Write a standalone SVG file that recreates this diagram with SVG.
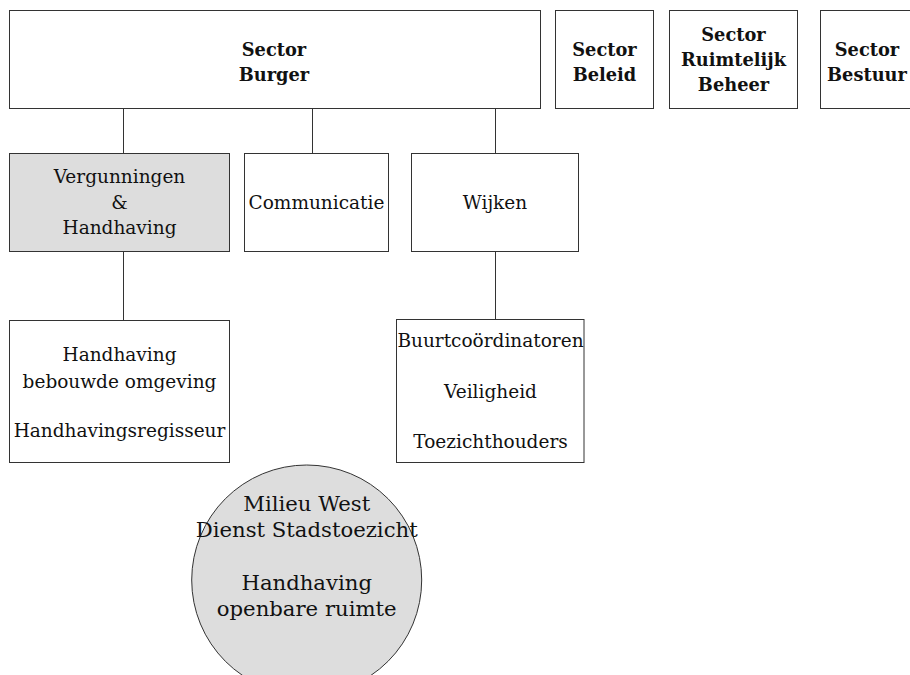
<svg xmlns="http://www.w3.org/2000/svg" width="910" height="675" viewBox="0 0 910 675">
  <style>
    .box { fill: #ffffff; stroke: #333333; stroke-width: 1; }
    .shaded { fill: #dddddd; }
    .link { stroke: #333333; stroke-width: 1; fill: none; }
    text { font-family: "DejaVu Serif", "Liberation Serif", serif; text-anchor: middle; fill: #111111; }
    .head { font-size: 17.8px; font-weight: bold; }
    .unit { font-size: 18.5px; }
    .ext { font-size: 21.2px; }
  </style>
  <rect width="910" height="675" fill="#ffffff"/>

  <!-- connectors -->
  <g id="connectors">
    <line class="link" x1="123.5" y1="108.5" x2="123.5" y2="153.5"/>
    <line class="link" x1="312.5" y1="108.5" x2="312.5" y2="153.5"/>
    <line class="link" x1="495.5" y1="108.5" x2="495.5" y2="153.5"/>
    <line class="link" x1="123.5" y1="251.5" x2="123.5" y2="320.5"/>
    <line class="link" x1="495.5" y1="251.5" x2="495.5" y2="319.5"/>
  </g>

  <!-- top row: sectors -->
  <g id="sector-burger">
    <rect class="box" x="9.5" y="10.5" width="531" height="98"/>
    <text class="head" x="274" y="56">Sector</text>
    <text class="head" x="274" y="81">Burger</text>
  </g>
  <g id="sector-beleid">
    <rect class="box" x="555.5" y="10.5" width="98" height="98"/>
    <text class="head" x="604.5" y="56">Sector</text>
    <text class="head" x="604.5" y="81">Beleid</text>
  </g>
  <g id="sector-ruimtelijk-beheer">
    <rect class="box" x="669.5" y="10.5" width="128" height="98"/>
    <text class="head" x="733.5" y="40.5">Sector</text>
    <text class="head" x="733.5" y="65.5">Ruimtelijk</text>
    <text class="head" x="733.5" y="90.5">Beheer</text>
  </g>
  <g id="sector-bestuur">
    <rect class="box" x="820.5" y="10.5" width="100" height="98"/>
    <text class="head" x="867" y="56">Sector</text>
    <text class="head" x="867" y="81">Bestuur</text>
  </g>

  <!-- second row: departments -->
  <g id="vergunningen-handhaving">
    <rect class="box shaded" x="9.5" y="153.5" width="220" height="98"/>
    <text class="unit" x="119.5" y="182.5">Vergunningen</text>
    <text class="unit" x="119.5" y="208.5">&amp;</text>
    <text class="unit" x="119.5" y="234">Handhaving</text>
  </g>
  <g id="communicatie">
    <rect class="box" x="244.5" y="153.5" width="144" height="98"/>
    <text class="unit" x="316.5" y="208.5">Communicatie</text>
  </g>
  <g id="wijken">
    <rect class="box" x="411.5" y="153.5" width="167" height="98"/>
    <text class="unit" x="495" y="208.5">Wijken</text>
  </g>

  <!-- third row: teams -->
  <g id="handhaving-bebouwde-omgeving">
    <rect class="box" x="9.5" y="320.5" width="220" height="142"/>
    <text class="unit" x="119.5" y="361">Handhaving</text>
    <text class="unit" x="119.5" y="387.5">bebouwde omgeving</text>
    <text class="unit" x="119.5" y="436.5">Handhavingsregisseur</text>
  </g>
  <g id="buurtcoordinatoren">
    <rect class="box" x="396.5" y="319.5" width="187.5" height="143"/>
    <text class="unit" x="490.5" y="346.5">Buurtcoördinatoren</text>
    <text class="unit" x="490.5" y="397.5">Veiligheid</text>
    <text class="unit" x="490.5" y="448">Toezichthouders</text>
  </g>

  <!-- external partner -->
  <g id="milieu-west">
    <circle class="box shaded" cx="306.7" cy="580" r="115"/>
    <text class="ext" x="306.7" y="511">Milieu West</text>
    <text class="ext" x="306.7" y="536.5">Dienst Stadstoezicht</text>
    <text class="ext" x="306.7" y="590">Handhaving</text>
    <text class="ext" x="306.7" y="615.5">openbare ruimte</text>
  </g>
</svg>
